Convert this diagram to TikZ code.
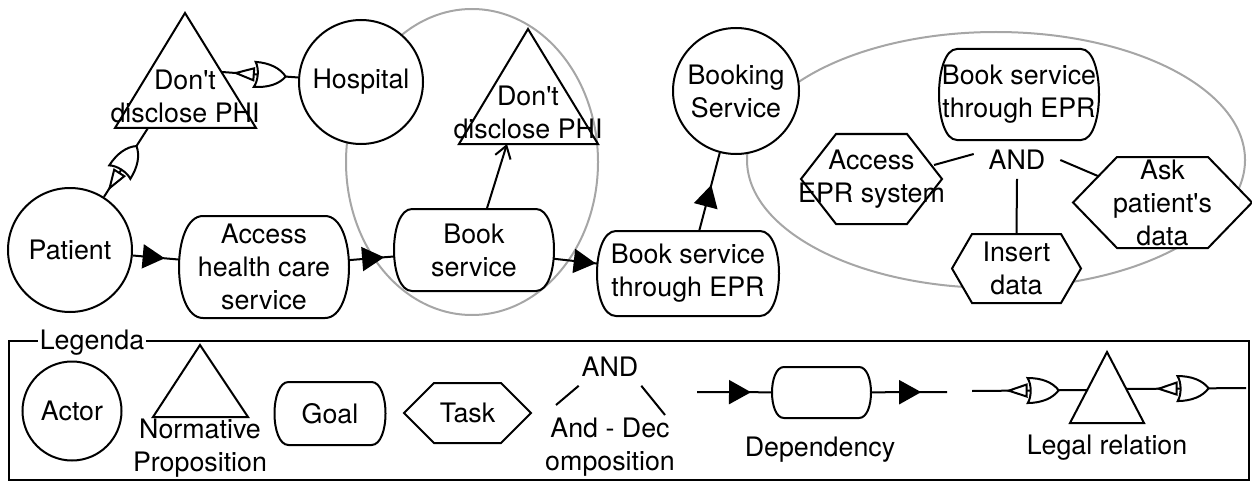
\documentclass[tikz,border=0pt]{standalone}
\usepackage{fontspec}
\setmainfont{TeX Gyre Heros}
\usetikzlibrary{arrows.meta,shapes.geometric,decorations.markings}
\pgfdeclarelayer{background}
\pgfsetlayers{background,main}

\tikzset{
  actor/.style={circle, draw, fill=white, inner sep=0pt, align=center},
  goal/.style={rectangle, inner sep=0pt, align=center},
  tasktext/.style={rectangle, inner sep=0pt, align=center},
  normtext/.style={inner sep=0pt, align=center},
  decomp/.style={inner xsep=7pt, inner ysep=4pt},
  boundary/.style={ellipse, draw=black!35, line width=1pt, inner sep=0pt},
  deplink/.style={postaction={decorate}, decoration={markings, mark=at position #1 with {\arrow{Triangle[length=11pt,width=12pt]}}}},
  legallink/.style={postaction={decorate}, decoration={markings, mark=at position #1 with {\orgate}}},
}

% or-gate with open arrow, used on legal relations
\newcommand{\orgate}{%
  \filldraw[fill=white, line width=1pt] (-19,0) -- (-1,6) -- (-1,-6) -- cycle;
  \filldraw[fill=white, line width=1pt] (0,12.5) .. controls (14,12.5) and (25,8) .. (31,0) .. controls (25,-8) and (14,-12.5) .. (0,-12.5) .. controls (4,-6) and (4,6) .. (0,12.5) -- cycle;
}
% hexagon behind a task node
\newcommand{\taskhex}[2]{%
  \begin{pgfonlayer}{background}
  \filldraw[fill=white, line width=1pt] (#1.west) -- ([xshift=#2]#1.north west) -- ([xshift=-#2]#1.north east) -- (#1.east) -- ([xshift=-#2]#1.south east) -- ([xshift=#2]#1.south west) -- cycle;
  \end{pgfonlayer}}
% rounded outline behind a goal node
\newcommand{\goalbox}[2]{%
  \begin{pgfonlayer}{background}
  \filldraw[fill=white, line width=1pt] ([xshift=#2]#1.north west) -- ([xshift=-#2]#1.north east)
    .. controls ([xshift=#2/3]#1.north east) and ([xshift=#2/3]#1.south east) .. ([xshift=-#2]#1.south east)
    -- ([xshift=#2]#1.south west)
    .. controls ([xshift=-#2/3]#1.south west) and ([xshift=-#2/3]#1.north west) .. cycle;
  \end{pgfonlayer}}

\begin{document}
\begin{tikzpicture}[x=0.5pt, y=-0.5pt, every path/.style={line width=1pt}, font=\fontsize{13.4}{16.5}\selectfont]
\useasboundingbox (0,0) rectangle (1252,481);

\begin{pgfonlayer}{background}
\node[boundary, minimum width=126pt, minimum height=153pt] (scopeH) at (472,162) {};
\node[boundary, minimum width=249pt, minimum height=128pt] (scopeB) at (996,160) {};
\end{pgfonlayer}

% actors
\node[actor, minimum size=62pt] (patient) at (70,250) {Patient};
\node[actor, minimum size=62pt] (hospital) at (361,82) {Hospital};
\node[actor, minimum size=63pt] (booking) at (736,91) {Booking\\Service};

% norms
\draw (185,13) -- (256,128) -- (115,128) -- cycle;
\node[normtext] (phiA) at (185,96) {Don\textquotesingle t\\disclose PHI};
\coordinate (phiA-b) at (148,128);
\coordinate (phiA-r) at (222,72);
\draw (528,29) -- (598,144) -- (459,144) -- cycle;
\node[normtext] (phiB) at (528,112) {Don\textquotesingle t\\disclose PHI};
\coordinate (phiB-b) at (507,144);

% goals
\node[goal, minimum width=84pt, minimum height=50pt] (access) at (264,267) {Access\\health care\\service};
\goalbox{access}{12pt}
\node[goal, minimum width=79pt, minimum height=40pt] (book) at (474,250) {Book\\service};
\goalbox{book}{9pt}
\node[goal, minimum width=90pt, minimum height=41.5pt] (bookepr) at (688,273.5) {Book service\\through EPR};
\goalbox{bookepr}{9.5pt}
\node[goal, inner xsep=-2pt, minimum width=79pt, minimum height=44.5pt] (bookeprB) at (1019,94.5) {Book service\\through EPR};
\goalbox{bookeprB}{9pt}

% tasks
\node[tasktext, inner xsep=-3pt, minimum width=69.5pt, minimum height=44pt] (accessepr) at (871.5,179) {Access\\EPR system};
\taskhex{accessepr}{17.5pt}
\node[tasktext, minimum width=88.5pt, minimum height=44.5pt] (ask) at (1162.5,202.5) {Ask\\patient\textquotesingle s\\data};
\taskhex{ask}{22pt}
\node[tasktext, minimum width=63.5pt, minimum height=33.5pt] (insert) at (1016.5,268.5) {Insert\\data};
\taskhex{insert}{10pt}

% and-decomposition
\node[decomp] (dec) at (1017,160) {AND};
\draw ([yshift=3pt]dec.west) -- ([xshift=-4pt,yshift=7pt]accessepr.east);
\draw (dec.east) -- ([xshift=13pt,yshift=13pt]ask.west);
\draw (dec.south) -- (insert.north);

% dependencies
\draw[deplink=0.69] (patient) -- (access);
\draw[deplink=0.78] (access) -- (book);
\draw[deplink=0.97] (book) -- (bookepr);
\draw[deplink=0.59] (bookepr) -- (booking);
\draw[-{Straight Barb[length=6pt,width=8pt]}] (book) -- (phiB-b);

% legal relations
\draw[legallink=0.36] (patient) -- (phiA-b);
\draw[legallink=0.43] (phiA-r) -- (hospital);

% legend
\node[draw, minimum width=620pt, minimum height=69.5pt, inner sep=0pt] (legend) at (629,410.5) {};
\node[fill=white, inner sep=1pt] (legendtitle) at (92,343) {Legenda};

\node[actor, minimum size=49.5pt] (actorleg) at (72,411) {Actor};
\draw (200,345) -- (248,417) -- (153,417) -- cycle;
\node[normtext] (normleg) at (200,448) {Normative\\Proposition};
\node[goal, minimum width=54.5pt, minimum height=30.5pt] (goalleg) at (330,413.5) {Goal};
\goalbox{goalleg}{7pt}
\node[tasktext, minimum width=62.5pt, minimum height=29pt] (taskleg) at (467.5,413) {Task};
\taskhex{taskleg}{15pt}

\node[decomp, inner xsep=1pt] (decleg) at (610,367) {AND};
\coordinate (decleg-l) at (556,405);
\coordinate (decleg-r) at (665,415);
\draw (decleg.south west) -- (decleg-l);
\draw (decleg.south east) -- (decleg-r);
\node[normtext] (decegtext) at (610,447) {And - Dec\\omposition};

\coordinate (depA) at (697,392);
\coordinate (depB) at (947,392);
\node[goal, minimum width=48.5pt, minimum height=24.5pt] (depgoal) at (821.5,392.5) {};
\goalbox{depgoal}{6pt}
\draw[deplink=0.72] (depA) -- (depgoal);
\draw[deplink=0.66] (depgoal) -- (depB);
\node (deptext) at (820,450) {Dependency};

\coordinate (legA) at (972,391);
\coordinate (legB) at (1246,388);
\draw (1107,352) -- (1144,423) -- (1070,423) -- cycle;
\coordinate (ltri-l) at (1088,390);
\coordinate (ltri-r) at (1126,389);
\draw[legallink=0.48] (legA) -- (ltri-l);
\draw[legallink=0.43] (ltri-r) -- (legB);
\node (legaltext) at (1107,448) {Legal relation};
\end{tikzpicture}
\end{document}
